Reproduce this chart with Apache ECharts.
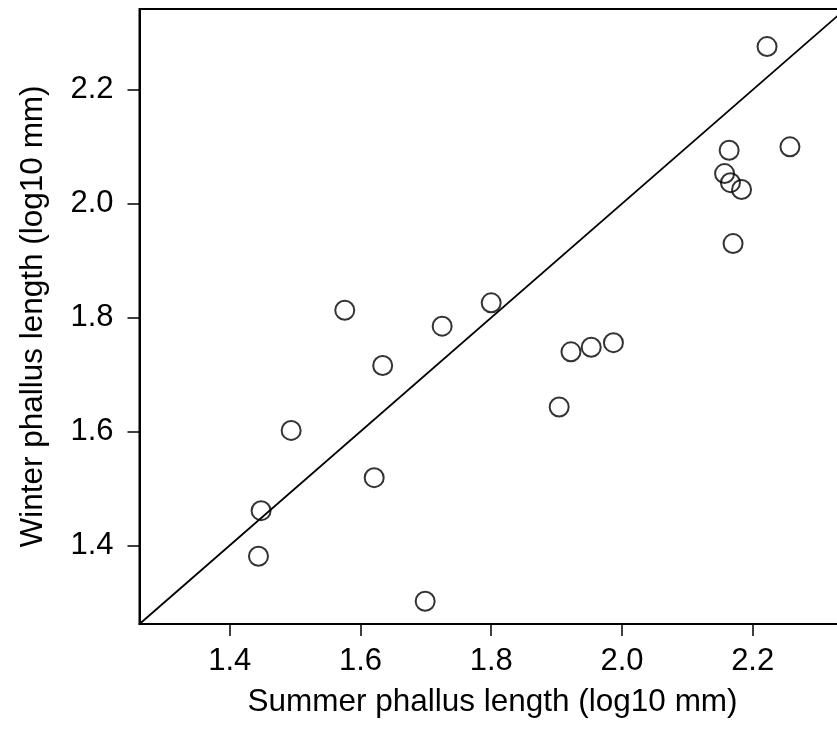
<!DOCTYPE html>
<html>
<head>
<meta charset="utf-8">
<script src="https://cdn.jsdelivr.net/npm/echarts@6/dist/echarts.min.js"></script>
<style>
html,body{margin:0;padding:0;background:#fff;}
#chart{width:837px;height:732px;}
</style>
</head>
<body>
<div id="chart"></div>
<script>
// Summer (x) and winter (y) phallus lengths, log10 mm
const summerLen = [2.222, 2.257, 2.164, 2.157, 2.166, 2.183, 2.170, 1.576, 1.800, 1.725,
                   1.634, 1.494, 1.621, 1.922, 1.953, 1.987, 1.904, 1.448, 1.444, 1.699];
const winterLen = [2.276, 2.100, 2.094, 2.053, 2.037, 2.025, 1.930, 1.813, 1.826, 1.785,
                   1.716, 1.602, 1.519, 1.740, 1.748, 1.756, 1.643, 1.461, 1.381, 1.302];
const tickValues = [1.4, 1.6, 1.8, 2.0, 2.2];
const axisMin = 1.262;
const axisMax = 2.342;

const points = summerLen.map((x, i) => [x, winterLen[i]]);
const identityLine = [[axisMin, axisMin], [axisMax, axisMax]];

const FONT = '"Liberation Sans", Arial, Helvetica, sans-serif';
const chart = echarts.init(document.getElementById('chart'), null, {renderer: 'canvas'});

const axisCommon = {
  type: 'value',
  min: axisMin,
  max: axisMax,
  splitLine: {show: false},
  axisLine: {show: true, onZero: false, lineStyle: {color: '#000', width: 2}},
  axisTick: {show: true, length: 12, inside: false, customValues: tickValues,
             lineStyle: {color: '#000', width: 1.5}},
  axisLabel: {customValues: tickValues, color: '#000', fontSize: 31, fontFamily: FONT,
              formatter: v => v.toFixed(1)},
  nameLocation: 'middle',
  nameTextStyle: {color: '#000', fontSize: 31.5, fontFamily: FONT}
};

chart.setOption({
  backgroundColor: '#fff',
  animation: false,
  grid: {left: 139.5, top: 9, width: 706, height: 615, show: true,
         outerBoundsMode: 'none', containLabel: false,
         borderColor: '#000', borderWidth: 2, backgroundColor: 'transparent'},
  xAxis: Object.assign({}, axisCommon, {
    name: 'Summer phallus length (log10 mm)',
    nameGap: 62,
    axisLabel: Object.assign({}, axisCommon.axisLabel, {margin: 22})
  }),
  yAxis: Object.assign({}, axisCommon, {
    name: 'Winter phallus length (log10 mm)',
    nameGap: 90,
    axisLabel: Object.assign({}, axisCommon.axisLabel, {margin: 26})
  }),
  series: [
    {
      type: 'line',
      data: identityLine,
      symbol: 'none',
      clip: true,
      lineStyle: {color: '#000', width: 1.8},
      silent: true
    },
    {
      type: 'scatter',
      data: points,
      symbol: 'circle',
      symbolSize: 19,
      itemStyle: {color: 'transparent', borderColor: '#000', borderWidth: 2}
    }
  ]
});
</script>
</body>
</html>
